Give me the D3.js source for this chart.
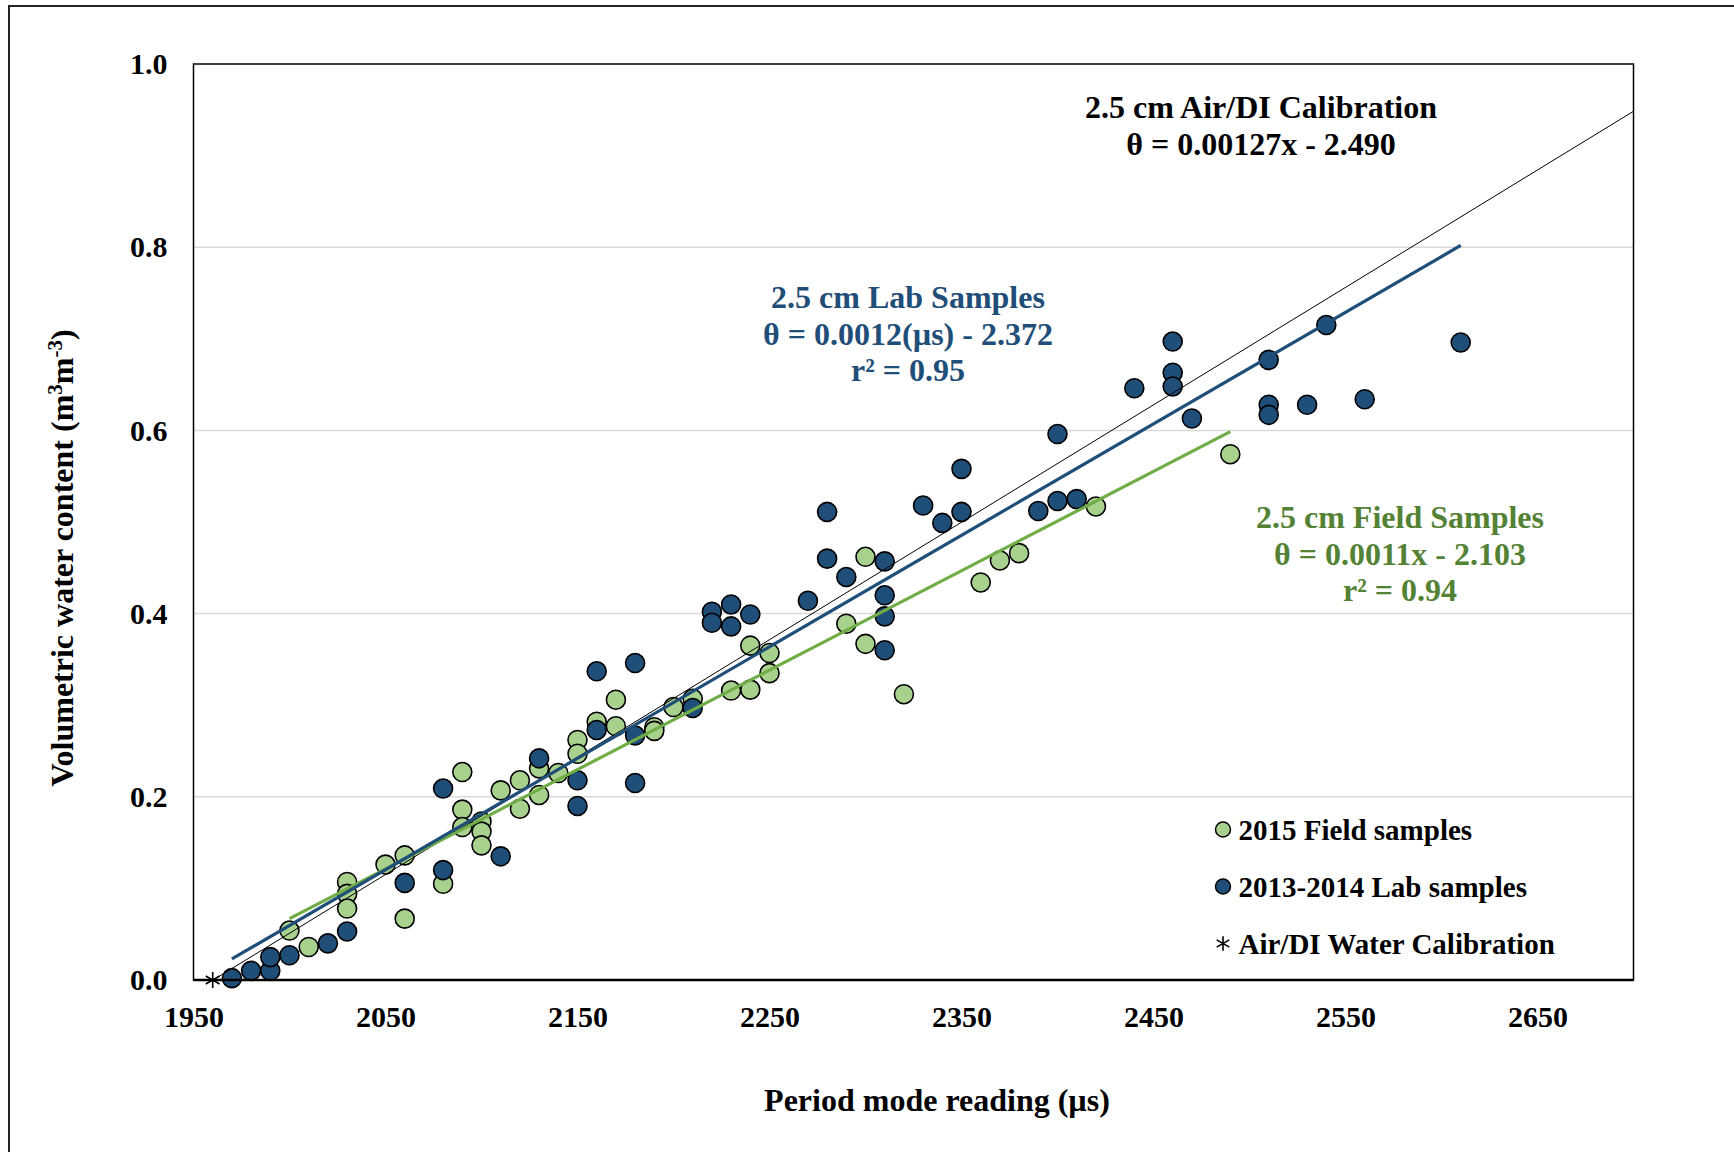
<!DOCTYPE html>
<html>
<head>
<meta charset="utf-8">
<script src="https://cdn.jsdelivr.net/npm/d3@7"></script>
<style>
body{margin:0;background:#fff}
text{font-family:"Liberation Serif","Times New Roman",serif;font-weight:bold}
</style>
</head>
<body>
<svg id="graph"></svg>
<script>
// 2015 field samples [period (µs), theta]
var fieldSamples=[
 [2000,0.054],[2010,0.036],[2030,0.107],[2030,0.094],[2030,0.078],[2050,0.126],
 [2060,0.136],[2060,0.067],[2080,0.105],[2090,0.227],[2090,0.186],[2090,0.167],
 [2100,0.173],[2100,0.162],[2100,0.147],[2110,0.207],[2120,0.218],[2120,0.187],
 [2130,0.231],[2130,0.202],[2140,0.226],[2150,0.262],[2150,0.247],[2160,0.282],
 [2170,0.306],[2170,0.277],[2190,0.276],[2190,0.272],[2200,0.298],[2210,0.307],
 [2230,0.316],[2240,0.365],[2240,0.317],[2250,0.357],[2250,0.335],[2290,0.389],
 [2300,0.462],[2300,0.367],[2320,0.312],[2360,0.434],[2370,0.458],[2380,0.466],
 [2420,0.517],[2490,0.574]
]
// 2013-2014 lab samples
var labSamples=[
 [1970,0.002],[1980,0.010],[1990,0.010],[1990,0.025],[2000,0.027],[2020,0.040],
 [2030,0.053],[2060,0.106],[2080,0.209],[2080,0.120],[2110,0.135],[2130,0.242],
 [2150,0.218],[2150,0.190],[2160,0.337],[2160,0.273],[2180,0.346],[2180,0.267],
 [2180,0.215],[2210,0.297],[2220,0.402],[2220,0.390],[2230,0.410],[2230,0.386],
 [2240,0.399],[2270,0.414],[2280,0.511],[2280,0.460],[2290,0.440],[2310,0.457],
 [2310,0.420],[2310,0.397],[2310,0.360],[2330,0.518],[2340,0.499],[2350,0.558],
 [2350,0.511],[2390,0.512],[2400,0.596],[2400,0.523],[2410,0.525],[2440,0.646],
 [2460,0.697],[2460,0.663],[2460,0.648],[2470,0.613],[2510,0.677],[2510,0.628],
 [2510,0.617],[2530,0.628],[2540,0.715],[2560,0.634],[2610,0.696]
]
var calibration=[[1960,0]]

// fit lines as drawn: [slope, intercept, xStart, xEnd]
var calibFit=[0.001282,-2.513,1960,2700]
var labFit=[0.001217,-2.3745,1970,2610]
var fieldFit=[0.001085,-2.103,2000,2490]

var xTicks=[1950,2050,2150,2250,2350,2450,2550,2650]
var yTicks=[0,0.2,0.4,0.6,0.8,1.0]

var calibText=["2.5 cm Air/DI Calibration","θ = 0.00127x - 2.490"]
var labText=["2.5 cm Lab Samples","θ = 0.0012(µs) - 2.372","r² = 0.95"]
var fieldText=["2.5 cm Field Samples","θ = 0.0011x - 2.103","r² = 0.94"]
var legendNames=["2015 Field samples","2013-2014 Lab samples","Air/DI Water Calibration"]

var blue="#1F4E79", green="#A9D18E", greenLine="#70AD47", greenText="#548235"

var initGraph=function()
    {
        var screen={width:1734,height:1152}
        var margins={left:193.5,right:100.5,top:64,bottom:172}
        var graph=
            {
                width:screen.width-margins.left-margins.right,
                height:screen.height-margins.top-margins.bottom
            }

        var svg=d3.select("#graph")
            .attr("width",screen.width)
            .attr("height",screen.height)

        // outer frame (top and left edges visible)
        svg.append("path")
            .attr("d","M9,1152V6H1734")
            .attr("fill","none")
            .attr("stroke","#222")
            .attr("stroke-width",2)

        var target=svg.append("g")
            .attr("id","canvas")
            .attr("transform","translate("+margins.left+","+margins.top+")")

        var xScale=d3.scaleLinear()
            .domain([1950,2700])
            .range([0,graph.width])
        var yScale=d3.scaleLinear()
            .domain([0,1])
            .range([graph.height,0])

        drawGrid(target,graph,yScale)
        drawPoints(target,xScale,yScale)
        drawLines(target,xScale,yScale)
        drawAxes(target,graph,xScale,yScale)
        drawLabels(svg)
        drawLegend(svg)
    }

var drawGrid=function(target,graph,yScale)
    {
        target.append("g")
            .selectAll("line")
            .data(yTicks.filter(function(d){return d>0&&d<1}))
            .enter()
            .append("line")
            .attr("x1",0)
            .attr("x2",graph.width)
            .attr("y1",function(d){return yScale(d)})
            .attr("y2",function(d){return yScale(d)})
            .attr("stroke","#D9D9D9")
            .attr("stroke-width",1.5)
    }

var drawPoints=function(target,xScale,yScale)
    {
        target.append("g")
            .selectAll("circle")
            .data(fieldSamples)
            .enter()
            .append("circle")
            .attr("cx",function(d){return xScale(d[0])})
            .attr("cy",function(d){return yScale(d[1])})
            .attr("r",9.5)
            .attr("fill",green)
            .attr("stroke","#000")
            .attr("stroke-width",1.6)

        target.append("g")
            .selectAll("circle")
            .data(labSamples)
            .enter()
            .append("circle")
            .attr("cx",function(d){return xScale(d[0])})
            .attr("cy",function(d){return yScale(d[1])})
            .attr("r",9.5)
            .attr("fill",blue)
            .attr("stroke","#000")
            .attr("stroke-width",1.6)

        target.append("g")
            .selectAll("path")
            .data(calibration)
            .enter()
            .append("path")
            .attr("d",d3.symbol().type(d3.symbolAsterisk).size(180))
            .attr("transform",function(d){return "translate("+xScale(d[0])+","+yScale(d[1])+")"})
            .attr("fill","none")
            .attr("stroke","#000")
            .attr("stroke-width",1.6)
    }

var drawLines=function(target,xScale,yScale)
    {
        var fitLine=function(fit)
            {
                return [[fit[2],fit[0]*fit[2]+fit[1]],[fit[3],fit[0]*fit[3]+fit[1]]]
            }
        var lineGenerator=d3.line()
            .x(function(d){return xScale(d[0])})
            .y(function(d){return yScale(d[1])})

        target.append("path")
            .datum(fitLine(calibFit))
            .attr("d",lineGenerator)
            .attr("fill","none")
            .attr("stroke","#000")
            .attr("stroke-width",1)
        target.append("path")
            .datum(fitLine(fieldFit))
            .attr("d",lineGenerator)
            .attr("fill","none")
            .attr("stroke",greenLine)
            .attr("stroke-width",3.2)
        target.append("path")
            .datum(fitLine(labFit))
            .attr("d",lineGenerator)
            .attr("fill","none")
            .attr("stroke",blue)
            .attr("stroke-width",3.2)
    }

var drawAxes=function(target,graph,xScale,yScale)
    {
        target.append("rect")
            .attr("width",graph.width)
            .attr("height",graph.height)
            .attr("fill","none")
            .attr("stroke","#000")
            .attr("stroke-width",1.5)
        target.append("line")
            .attr("x1",0).attr("x2",graph.width)
            .attr("y1",graph.height).attr("y2",graph.height)
            .attr("stroke","#000")
            .attr("stroke-width",2.5)

        var xAxis=d3.axisBottom(xScale)
            .tickValues(xTicks)
            .tickSize(0)
            .tickPadding(26)
            .tickFormat(d3.format("d"))
        var gx=target.append("g")
            .attr("transform","translate(0,"+graph.height+")")
            .call(xAxis)
        var yAxis=d3.axisLeft(yScale)
            .tickValues(yTicks)
            .tickSize(0)
            .tickPadding(26)
            .tickFormat(d3.format(".1f"))
        var gy=target.append("g")
            .call(yAxis)

        gx.select(".domain").remove()
        gy.select(".domain").remove()
        target.selectAll(".tick text")
            .attr("font-family","Liberation Serif")
            .attr("font-size",30)
            .attr("fill","#000")
    }

var drawLabels=function(svg)
    {
        var labels=svg.append("g").classed("labels",true)

        labels.append("text")
            .text("Period mode reading (µs)")
            .attr("text-anchor","middle")
            .attr("x",937)
            .attr("y",1111)
            .attr("font-size",32)

        var yl=labels.append("text")
            .attr("text-anchor","middle")
            .attr("transform","translate(73,558) rotate(-90)")
            .attr("font-size",32)
        yl.append("tspan").text("Volumetric water content (m")
        yl.append("tspan").text("3").attr("dy",-11).attr("font-size",21)
        yl.append("tspan").text("m").attr("dy",11)
        yl.append("tspan").text("-3").attr("dy",-11).attr("font-size",21)
        yl.append("tspan").text(")").attr("dy",11)

        var block=function(lines,cx,cy,color)
            {
                labels.append("g")
                    .selectAll("text")
                    .data(lines)
                    .enter()
                    .append("text")
                    .text(function(d){return d})
                    .attr("text-anchor","middle")
                    .attr("x",cx)
                    .attr("y",function(d,i){return cy+i*36.5})
                    .attr("font-size",32)
                    .attr("fill",color)
            }
        block(calibText,1261,118,"#000")
        block(labText,908,308,blue)
        block(fieldText,1400,528,greenText)
    }

var drawLegend=function(svg)
    {
        var legend=svg.append("g")
            .attr("transform","translate(1223,829.5)")
        var items=legend.selectAll("g")
            .data(legendNames)
            .enter()
            .append("g")
            .attr("transform",function(d,i){return "translate(0,"+(i*57)+")"})
        items.filter(function(d,i){return i<2})
            .append("circle")
            .attr("r",7.5)
            .attr("fill",function(d,i){return i==0?green:blue})
            .attr("stroke","#000")
            .attr("stroke-width",1.5)
        items.filter(function(d,i){return i==2})
            .append("path")
            .attr("d",d3.symbol().type(d3.symbolAsterisk).size(150))
            .attr("fill","none")
            .attr("stroke","#000")
            .attr("stroke-width",1.6)
        items.append("text")
            .text(function(d){return d})
            .attr("x",15.5)
            .attr("y",10)
            .attr("font-size",29)
            .attr("fill","#000")
    }

initGraph()
</script>
</body>
</html>
